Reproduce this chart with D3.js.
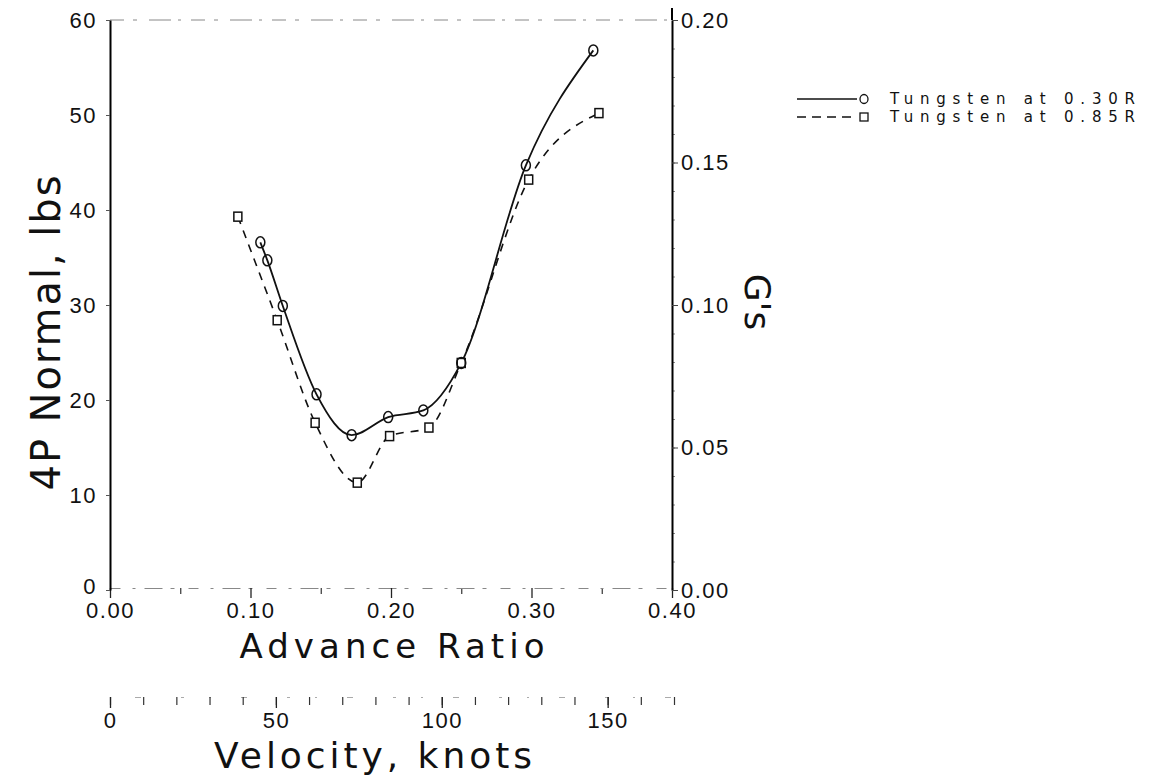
<!DOCTYPE html>
<html>
<head>
<meta charset="utf-8">
<script src="https://cdn.jsdelivr.net/npm/d3@7"></script>
<style>
  html, body { margin: 0; padding: 0; background: #fff; }
  svg { display: block; }
</style>
</head>
<body>
<svg id="chart" width="1159" height="784"></svg>
<script>
// ---- data ----
const muCircle  = [0.107, 0.112, 0.123, 0.147, 0.172, 0.198, 0.223, 0.250, 0.296, 0.344];
const lbsCircle = [36.6, 34.7, 29.9, 20.6, 16.3, 18.2, 18.9, 23.9, 44.7, 56.8];
const muSquare  = [0.091, 0.119, 0.146, 0.176, 0.199, 0.227, 0.250, 0.298, 0.348];
const lbsSquare = [39.3, 28.4, 17.6, 11.3, 16.2, 17.1, 23.9, 43.2, 50.2];

const seriesNames = ["Tungsten at 0.30R", "Tungsten at 0.85R"];
const muTicks = [0.0, 0.1, 0.2, 0.3, 0.4];
const muMinorTicks = [0.05, 0.15, 0.25, 0.35];
const lbsTicks = [0, 10, 20, 30, 40, 50, 60];
const gTicks = [0.0, 0.05, 0.10, 0.15, 0.20];
const gMinorTicks = d3.range(0, 21).map(i => i / 100);
const knotTicks = [0, 50, 100, 150];
const knotMinorTicks = d3.range(0, 171, 10);

const svg = d3.select("#chart");
const tickFont = "'Liberation Sans', Arial, sans-serif";
const titleFont = "'DejaVu Sans', sans-serif";

// ---- scales ----
const x = d3.scaleLinear().domain([0, 0.4]).range([110, 672]);
const y = d3.scaleLinear().domain([0, 60]).range([590, 20]);
const g = d3.scaleLinear().domain([0, 0.2]).range([590, 20]);
const v = d3.scaleLinear().domain([0, 170]).range([110, 674]);

function styleText(sel, size) {
  sel.selectAll("text")
    .attr("font-family", tickFont)
    .attr("font-size", size)
    .attr("letter-spacing", 1.5)
    .attr("fill", "#111");
}

// top frame (faint, broken)
svg.append("line")
  .attr("x1", x(0)).attr("x2", x(0.4)).attr("y1", y(60)).attr("y2", y(60))
  .attr("stroke", "#888").attr("stroke-width", 1)
  .attr("stroke-dasharray", "14 9 4 12 22 7 3 10");

// bottom axis (advance ratio)
const xMinor = svg.append("g").attr("transform", `translate(0,${y(0) - 2})`)
  .call(d3.axisBottom(x).tickValues(muMinorTicks).tickSize(6).tickFormat(""));
xMinor.select(".domain").remove();
xMinor.selectAll("line").attr("stroke", "#333").attr("stroke-width", 1.2);

const xAxis = svg.append("g").attr("transform", `translate(0,${y(0) - 2})`)
  .call(d3.axisBottom(x).tickValues(muTicks).tickSize(10).tickSizeOuter(0).tickPadding(4)
    .tickFormat(d3.format(".2f")));
xAxis.select(".domain").attr("stroke", "#888").attr("stroke-width", 1)
  .attr("stroke-dasharray", "10 12 3 9 18 8 4 14");
xAxis.selectAll(".tick line").attr("stroke", "#222").attr("stroke-width", 1.3);
styleText(xAxis, 22);

// left axis
const yAxis = svg.append("g").attr("transform", `translate(${x(0)},0)`)
  .call(d3.axisLeft(y).tickValues(lbsTicks).tickSize(4).tickSizeOuter(0).tickPadding(9)
    .tickFormat(d3.format("d")));
yAxis.select(".domain").attr("stroke", "#000").attr("stroke-width", 2);
yAxis.selectAll(".tick line").attr("stroke", "#555");
styleText(yAxis, 22);
yAxis.selectAll(".tick text").filter(d => d === 0).attr("dy", "0.15em");

// right axis (G's)
const gMinor = svg.append("g").attr("transform", `translate(${x(0.4)},0)`)
  .call(d3.axisRight(g).tickValues(gMinorTicks).tickSize(3).tickFormat(""));
gMinor.select(".domain").remove();
gMinor.selectAll("line").attr("stroke", "#888");

const gAxis = svg.append("g").attr("transform", `translate(${x(0.4)},0)`)
  .call(d3.axisRight(g).tickValues(gTicks).tickSize(6).tickSizeOuter(0).tickPadding(3)
    .tickFormat(d3.format(".2f")));
gAxis.select(".domain").attr("stroke", "#000").attr("stroke-width", 2);
gAxis.selectAll(".tick line").attr("stroke", "#444");
styleText(gAxis, 22);
svg.append("line").attr("x1", x(0.4)).attr("x2", x(0.4)).attr("y1", 8).attr("y2", g(0.2))
  .attr("stroke", "#000").attr("stroke-width", 2);

// velocity axis
const vMinor = svg.append("g").attr("transform", "translate(0,697)")
  .call(d3.axisBottom(v).tickValues(knotMinorTicks).tickSize(8).tickFormat(""));
vMinor.select(".domain").attr("stroke", "#aaa").attr("stroke-dasharray", "2 30 6 40 3 25");
vMinor.selectAll("line").attr("stroke", "#333").attr("stroke-width", 1.2);
const vAxis = svg.append("g").attr("transform", "translate(0,697)")
  .call(d3.axisBottom(v).tickValues(knotTicks).tickSize(11).tickPadding(4).tickFormat(d3.format("d")));
vAxis.select(".domain").remove();
vAxis.selectAll(".tick line").attr("stroke", "#222").attr("stroke-width", 1.3);
styleText(vAxis, 22);

// ---- titles ----
svg.append("text").text("Advance Ratio")
  .attr("x", 392).attr("y", 658).attr("text-anchor", "middle")
  .attr("font-family", titleFont).attr("font-size", 34)
  .attr("textLength", 305).attr("lengthAdjust", "spacing").attr("fill", "#111");

svg.append("text").text("Velocity, knots")
  .attr("x", 373).attr("y", 768).attr("text-anchor", "middle")
  .attr("font-family", titleFont).attr("font-size", 36)
  .attr("textLength", 318).attr("lengthAdjust", "spacing").attr("fill", "#111");

svg.append("text").text("4P Normal, lbs")
  .attr("transform", "translate(60,333) rotate(-90)")
  .attr("text-anchor", "middle")
  .attr("font-family", titleFont).attr("font-size", 40)
  .attr("textLength", 315).attr("lengthAdjust", "spacing").attr("fill", "#111");

svg.append("text").text("G's")
  .attr("transform", "translate(745,302) rotate(90)")
  .attr("text-anchor", "middle")
  .attr("font-family", titleFont).attr("font-size", 36)
  .attr("fill", "#111");

// ---- series ----
const circles = muCircle.map((m, i) => ({ mu: m, lbs: lbsCircle[i] }));
const squares = muSquare.map((m, i) => ({ mu: m, lbs: lbsSquare[i] }));

const line = d3.line().x(d => x(d.mu)).y(d => y(d.lbs)).curve(d3.curveMonotoneX);

svg.append("path").datum(squares).attr("d", line)
  .attr("fill", "none").attr("stroke", "#111").attr("stroke-width", 1.6)
  .attr("stroke-dasharray", "8 7");
svg.append("path").datum(circles).attr("d", line)
  .attr("fill", "none").attr("stroke", "#111").attr("stroke-width", 1.8);

svg.append("g").selectAll("rect").data(squares).join("rect")
  .attr("x", d => x(d.mu) - 4).attr("y", d => y(d.lbs) - 4.5)
  .attr("width", 8).attr("height", 9)
  .attr("fill", "#fff").attr("stroke", "#111").attr("stroke-width", 1.5);

svg.append("g").selectAll("ellipse").data(circles).join("ellipse")
  .attr("cx", d => x(d.mu)).attr("cy", d => y(d.lbs))
  .attr("rx", 4.5).attr("ry", 5.5)
  .attr("fill", "none").attr("stroke", "#111").attr("stroke-width", 1.5);

// ---- legend ----
const legend = svg.append("g");
const legRows = [
  { name: seriesNames[0], dash: null, y: 99, marker: "circle" },
  { name: seriesNames[1], dash: "9 6", y: 117, marker: "square" }
];
legRows.forEach(r => {
  legend.append("line").attr("x1", 797).attr("x2", 857).attr("y1", r.y).attr("y2", r.y)
    .attr("stroke", "#111").attr("stroke-width", 1.5)
    .attr("stroke-dasharray", r.dash);
  if (r.marker === "circle") {
    legend.append("ellipse").attr("cx", 864).attr("cy", r.y).attr("rx", 4).attr("ry", 4.5)
      .attr("fill", "none").attr("stroke", "#111").attr("stroke-width", 1.3);
  } else {
    legend.append("rect").attr("x", 860).attr("y", r.y - 4).attr("width", 8).attr("height", 8)
      .attr("fill", "none").attr("stroke", "#111").attr("stroke-width", 1.3);
  }
  legend.append("text").text(r.name)
    .attr("x", 890).attr("y", r.y + 5)
    .attr("font-family", titleFont).attr("font-size", 15)
    .attr("textLength", 245).attr("lengthAdjust", "spacing").attr("fill", "#111");
});
</script>
</body>
</html>
